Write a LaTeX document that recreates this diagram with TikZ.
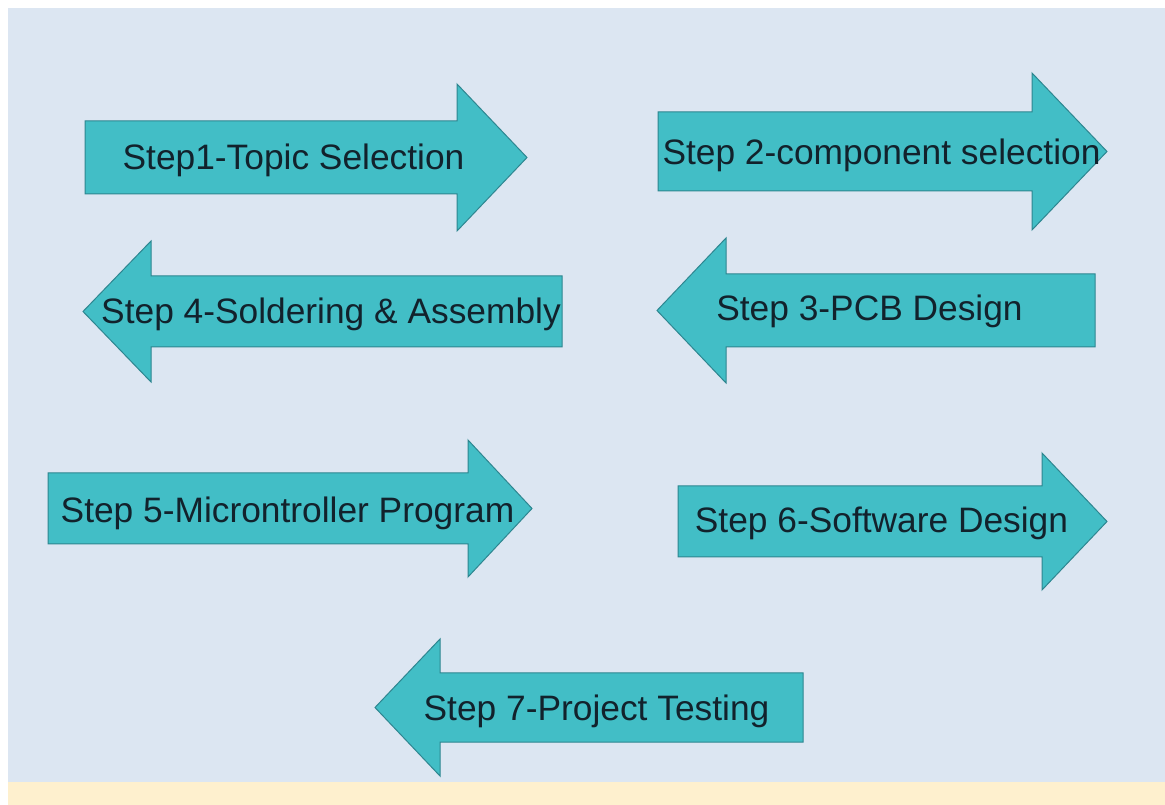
\documentclass[tikz,border=0pt]{standalone}
\usepackage{fontspec}
\setmainfont{Liberation Sans}

\tikzset{every picture/.style={line width=0.75pt}}
\tikzset{
  arrowshape/.style={draw={rgb, 255:red, 46; green, 134; blue, 144 },fill={rgb, 255:red, 66; green, 190; blue, 198 },fill opacity=1,line join=miter},
  steptext/.style={anchor=center,inner sep=0pt,text height=18.8pt,text depth=0pt,font=\fontsize{26.5}{30}\selectfont,color={rgb, 255:red, 18; green, 34; blue, 44 }}
}

\begin{document}
\begin{tikzpicture}[x=0.75pt,y=0.75pt,yscale=-1,xscale=1]
%set diagram left start at 0, and has height of 805
\path (0,0) rectangle (1165,805);

%Shape: Rectangle [background]
\fill [color={rgb, 255:red, 255; green, 255; blue, 255 }] (0,0) rectangle (1165,805);
\fill [color={rgb, 255:red, 220; green, 230; blue, 242 }] (8,8) rectangle (1165,782);
\fill [color={rgb, 255:red, 254; green, 240; blue, 206 }] (8,782) rectangle (1165,805);

%Shape: Right Arrow [step 1]
\draw [arrowshape] (85,121) -- (457,121) -- (457,84) -- (527,157.5) -- (457,231) -- (457,194) -- (85,194) -- cycle ;
%Shape: Right Arrow [step 2]
\draw [arrowshape] (658,112) -- (1032,112) -- (1032,73) -- (1107,151.5) -- (1032,230) -- (1032,191) -- (658,191) -- cycle ;
%Shape: Left Arrow [step 3]
\draw [arrowshape] (657,310.5) -- (726,238) -- (726,274) -- (1095,274) -- (1095,347) -- (726,347) -- (726,383) -- cycle ;
%Shape: Left Arrow [step 4]
\draw [arrowshape] (83,311.5) -- (151,241) -- (151,276) -- (562,276) -- (562,347) -- (151,347) -- (151,382) -- cycle ;
%Shape: Right Arrow [step 5]
\draw [arrowshape] (48,473) -- (468,473) -- (468,440) -- (532,508.5) -- (468,577) -- (468,544) -- (48,544) -- cycle ;
%Shape: Right Arrow [step 6]
\draw [arrowshape] (678,486) -- (1042,486) -- (1042,453) -- (1107,521.5) -- (1042,590) -- (1042,557) -- (678,557) -- cycle ;
%Shape: Left Arrow [step 7]
\draw [arrowshape] (375,707.5) -- (440,639) -- (440,673) -- (803,673) -- (803,742) -- (440,742) -- (440,776) -- cycle ;

% Text Node
\node [steptext] (topic) at (293.5,157) {Step1-Topic Selection};
% Text Node
\node [steptext] (component) at (881.5,152) {Step 2-component selection};
% Text Node
\node [steptext] (pcb) at (869.5,308) {Step 3-PCB Design};
% Text Node
\node [steptext] (solder) at (331,311) {Step 4-Soldering \& Assembly};
% Text Node
\node [steptext] (micro) at (287.5,510) {Step 5-Microntroller Program};
% Text Node
\node [steptext] (software) at (881.5,520) {Step 6-Software Design};
% Text Node
\node [steptext] (testing) at (596.5,708) {Step 7-Project Testing};
\end{tikzpicture}
\end{document}
